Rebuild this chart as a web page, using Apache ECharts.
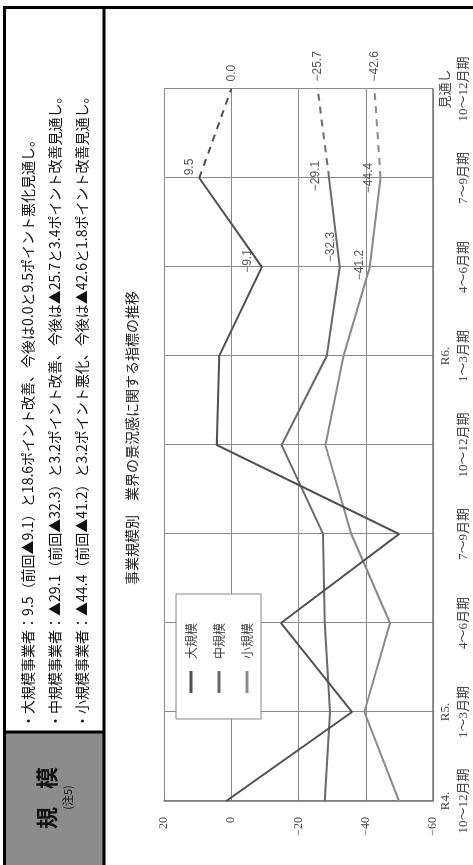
<!DOCTYPE html>
<html><head><meta charset="utf-8">
<script src="https://cdn.jsdelivr.net/npm/echarts@6/dist/echarts.min.js"></script>
<style>
html,body{margin:0;padding:0;background:#fff;overflow:hidden;width:473px;height:865px;}
#wrap{position:absolute;left:0;top:0;width:865px;height:473px;transform-origin:0 0;transform:translate(0,865px) rotate(-90deg);}
#chart{width:865px;height:473px;}
</style></head><body>
<div id="wrap"><div id="chart"></div></div>
<script>
// ---- data ----
const categories = ['R4. 10〜12月期','R5. 1〜3月期','R5. 4〜6月期','R5. 7〜9月期','R5. 10〜12月期','R6. 1〜3月期','R6. 4〜6月期','R6. 7〜9月期','見通し 10〜12月期'];
const yearLabels = ['R4.','R5.','','','','R6.','','','見通し'];
const periodLabels = ['10〜12月期','1〜3月期','4〜6月期','7〜9月期','10〜12月期','1〜3月期','4〜6月期','7〜9月期','10〜12月期'];
const seriesNames = ['大規模','中規模','小規模'];
const largeValues  = [1.5, -35.9, -14.8, -49.9, 4.3, 3.6, -9.1, 9.5, 0.0];
const mediumValues = [-27.8, -29.4, -27.8, -27.3, -15.0, -28.4, -32.3, -29.1, -25.7];
const smallValues  = [-49.9, -39.6, -47.2, -35.7, -28.0, -33.4, -41.2, -44.4, -42.6];
const valueMin = -60, valueMax = 20, valueStep = 20;
const titleText = '事業規模別　業界の景況感に関する指標の推移';
const panelTitle = ['規','模'];
const panelNote = '(注5)';
const summaryLines = [
  '・大規模事業者：9.5（前回▲9.1）と18.6ポイント改善、今後は0.0と9.5ポイント悪化見通し。',
  '・中規模事業者：▲29.1（前回▲32.3）と3.2ポイント改善、今後は▲25.7と3.4ポイント改善見通し。',
  '・小規模事業者：▲44.4（前回▲41.2）と3.2ポイント悪化、今後は▲42.6と1.8ポイント改善見通し。'
];

// ---- styles ----
const colors = ['#505050', '#6a6a6a', '#8a8a8a'];
const labelStyles = [
  {6: {distance: 8, offset: [6, 0]}, 7: {distance: 3, offset: [11, 0]}},
  {6: {distance: 3, offset: [20, 0]}, 7: {distance: 7, offset: [2, 0]}},
  {6: {distance: 4, offset: [2, 0]}, 7: {distance: 5, offset: [0, 0]}}
];
const fmt = v => v.toFixed(1).replace('-', '−');
const JP = '"Noto Sans CJK JP", sans-serif';
const SERIF = '"Liberation Serif", "Noto Sans CJK JP", serif';
const SANS = '"Liberation Sans", Arial, sans-serif';
const labelBase = {show: true, color: '#555', fontSize: 12, fontFamily: SANS, formatter: p => fmt(p.value)};

const allValues = [largeValues, mediumValues, smallValues];
const series = [];
allValues.forEach((vals, s) => {
  series.push({
    name: seriesNames[s], type: 'line', silent: true, z: 3 - s + 2,
    symbol: 'circle', symbolSize: 1, showSymbol: true,
    lineStyle: {color: colors[s], width: 2},
    itemStyle: {color: colors[s]},
    emphasis: {disabled: true},
    label: {show: false},
    data: vals.map((v, i) => {
      if (i > 7) return '-';
      if (labelStyles[s][i]) return {value: v, label: Object.assign({}, labelBase, {position: 'top'}, labelStyles[s][i])};
      return v;
    })
  });
  series.push({
    name: seriesNames[s] + '見通し', type: 'line', silent: true, z: 3 - s + 2,
    symbol: 'circle', symbolSize: 1, showSymbol: true,
    lineStyle: {color: colors[s], width: 2, type: [7, 6]},
    itemStyle: {color: colors[s]},
    emphasis: {disabled: true},
    label: {show: false},
    data: vals.map((v, i) => {
      if (i < 7) return '-';
      if (i === 8) return {value: v, label: Object.assign({}, labelBase, {position: 'right', distance: 7})};
      return v;
    })
  });
});

const graphics = [
  {type: 'rect', shape: {x: 0, y: 5, width: 133, height: 99}, style: {fill: '#8c8c8c'}, z: 1},
  {type: 'line', shape: {x1: 0, y1: 4.5, x2: 859, y2: 4.5}, style: {stroke: '#000', lineWidth: 3}, z: 2},
  {type: 'line', shape: {x1: 0, y1: 104, x2: 859, y2: 104}, style: {stroke: '#000', lineWidth: 3}, z: 2},
  {type: 'line', shape: {x1: 857.5, y1: 3, x2: 857.5, y2: 473}, style: {stroke: '#000', lineWidth: 3}, z: 2},
  {type: 'line', shape: {x1: 133, y1: 4, x2: 133, y2: 104}, style: {stroke: '#000', lineWidth: 3}, z: 2},
  {type: 'text', x: 47, y: 47, style: {text: panelTitle[0], font: 'bold 22px ' + JP, fill: '#111', align: 'center', verticalAlign: 'middle'}, z: 3},
  {type: 'text', x: 87, y: 47, style: {text: panelTitle[1], font: 'bold 22px ' + JP, fill: '#111', align: 'center', verticalAlign: 'middle'}, z: 3},
  {type: 'text', x: 67.5, y: 68, style: {text: panelNote, font: '11px ' + JP, fill: '#111', align: 'center', verticalAlign: 'middle'}, z: 3},
  {type: 'text', x: 427, y: 132, style: {text: titleText, font: '14px ' + JP, fill: '#222', align: 'center', verticalAlign: 'middle'}, z: 3}
];
summaryLines.forEach((t, i) => {
  graphics.push({type: 'text', x: 137, y: 28 + i * 26.8, style: {text: t, font: '14px ' + JP, fill: '#111', align: 'left', verticalAlign: 'middle'}, z: 3});
});

const chart = echarts.init(document.getElementById('chart'), null, {renderer: 'canvas'});
chart.setOption({
  animation: false,
  backgroundColor: '#fff',
  grid: {left: 64, right: 89, top: 164, bottom: 38, containLabel: false},
  legend: {
    data: seriesNames, left: 146, top: 176, orient: 'vertical',
    padding: [9, 29, 8, 26], itemGap: 16, itemWidth: 22, itemHeight: 3, icon: 'rect',
    textStyle: {fontSize: 12, color: '#444', fontFamily: JP, padding: [0, 0, 0, 7]},
    borderColor: '#888', borderWidth: 1, backgroundColor: '#fff', selectedMode: false, z: 10
  },
  xAxis: {
    type: 'category', data: categories, boundaryGap: false,
    axisLine: {show: true, onZero: false, lineStyle: {color: '#777', width: 1.5}},
    axisTick: {show: false},
    splitLine: {show: true, lineStyle: {color: '#8a8a8a', width: 1}},
    axisLabel: {
      interval: 0, margin: 4, color: '#444', fontSize: 13, fontFamily: SERIF, lineHeight: 18,
      formatter: (val, idx) => yearLabels[idx] + '\n' + periodLabels[idx]
    }
  },
  yAxis: {
    type: 'value', min: valueMin, max: valueMax, interval: valueStep,
    axisLine: {show: true, lineStyle: {color: '#777', width: 1.5}},
    axisTick: {show: true, inside: true, length: 5, lineStyle: {color: '#777'}},
    splitLine: {show: true, lineStyle: {color: '#8a8a8a', width: 1}},
    axisLabel: {margin: 16, color: '#444', fontSize: 12, fontFamily: SERIF, formatter: v => String(v).replace('-', '−')}
  },
  series: series,
  graphic: graphics
});
</script>
</body></html>
